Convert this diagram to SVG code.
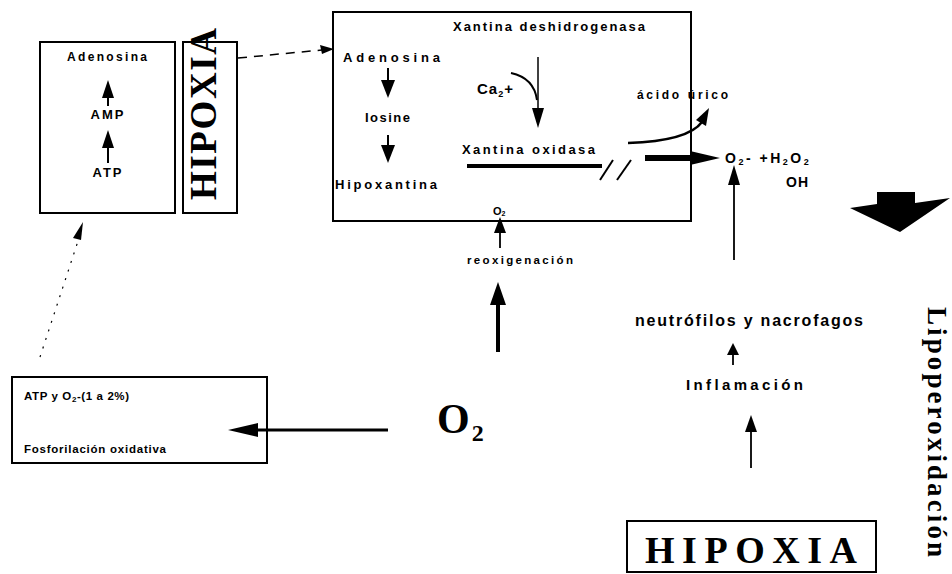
<svg xmlns="http://www.w3.org/2000/svg" width="952" height="574" viewBox="0 0 952 574">
<style>
.box{fill:none;stroke:#000;stroke-width:2}
.t{font-family:"Liberation Sans",Arial,sans-serif;font-weight:bold;fill:#000}
.s{font-family:"Liberation Serif","Times New Roman",serif;font-weight:bold;fill:#000}
.ln{stroke:#000;fill:none}
.ah{fill:#000;stroke:none}
</style>
<rect width="952" height="574" fill="#fff"/>
<g id="node-left">
<rect class="box" x="40" y="42" width="135" height="171"/>
<text class="t" x="67" y="61" font-size="12" textLength="80" lengthAdjust="spacing">Adenosina</text>
<text class="t" x="108" y="119" font-size="13" letter-spacing="2" text-anchor="middle">AMP</text>
<text class="t" x="108" y="177" font-size="13" letter-spacing="2" text-anchor="middle">ATP</text>
</g>
<g id="node-hipoxia-v">
<rect class="box" x="183" y="42" width="54" height="171"/>
<text class="s" x="0" y="0" font-size="37" transform="translate(216,200) rotate(-90)" textLength="172" lengthAdjust="spacing">HIPOXIA</text>
</g>
<g id="node-xantina">
<rect class="box" x="333" y="12" width="358" height="209"/>
<text class="t" x="453" y="31" font-size="13" textLength="192" lengthAdjust="spacing">Xantina deshidrogenasa</text>
<text class="t" x="343" y="62" font-size="13" textLength="97" lengthAdjust="spacing">Adenosina</text>
<text class="t" x="365" y="122" font-size="13" textLength="45" lengthAdjust="spacing">Iosine</text>
<text class="t" x="335" y="189" font-size="13" textLength="102" lengthAdjust="spacing">Hipoxantina</text>
<text class="t" x="477" y="94" font-size="15" letter-spacing="1">Ca<tspan font-size="9" dy="3">2</tspan><tspan dy="-3">+</tspan></text>
<text class="t" x="462" y="154" font-size="13" textLength="133" lengthAdjust="spacing">Xantina oxidasa</text>
<text class="t" x="493" y="215" font-size="11">O<tspan font-size="7" dy="1">2</tspan></text>
</g>
<g id="node-acido">
<text class="t" x="637" y="99" font-size="12" textLength="91" lengthAdjust="spacing">ácido úrico</text>
</g>
<g id="node-radicales">
<text class="t" x="725" y="163" font-size="14" letter-spacing="2.5">O<tspan font-size="9" dy="2">2</tspan><tspan dy="-2">- +H</tspan><tspan font-size="9" dy="2">2</tspan><tspan dy="-2">O</tspan><tspan font-size="9" dy="2">2</tspan></text>
<text class="t" x="786" y="187" font-size="14" letter-spacing="1">OH</text>
</g>
<g id="node-reox">
<text class="t" x="467" y="264" font-size="11.5" textLength="106" lengthAdjust="spacing">reoxigenación</text>
</g>
<g id="node-o2">
<text class="s" x="437" y="433" font-size="42">O<tspan font-size="24" dx="2" dy="8">2</tspan></text>
</g>
<g id="node-atp">
<rect class="box" x="12" y="377" width="255" height="86"/>
<text class="t" x="24" y="400" font-size="11.5" letter-spacing="0.6">ATP y O<tspan font-size="8" dy="2">2</tspan><tspan dy="-2">-(1 a 2%)</tspan></text>
<text class="t" x="24" y="453" font-size="11.5" textLength="142" lengthAdjust="spacing">Fosforilación oxidativa</text>
</g>
<g id="node-neutro">
<text class="t" x="635" y="326" font-size="16" textLength="228" lengthAdjust="spacing">neutrófilos y nacrofagos</text>
</g>
<g id="node-inflam">
<text class="t" x="686" y="390" font-size="15" textLength="117" lengthAdjust="spacing">Inflamación</text>
</g>
<g id="node-hipoxia-h">
<rect class="box" x="627" y="521" width="249" height="51"/>
<text class="s" x="645" y="563" font-size="38" textLength="212" lengthAdjust="spacing">HIPOXIA</text>
</g>
<g id="node-lipo">
<text class="s" x="0" y="0" font-size="27" transform="translate(928,307) rotate(90)" textLength="250" lengthAdjust="spacing">Lipoperoxidación</text>
</g>
<g id="connectors">
<line class="ln" x1="108" y1="106" x2="108" y2="94" stroke-width="2"/>
<polygon class="ah" points="102,98 114,98 108,80"/>
<line class="ln" x1="108" y1="163" x2="108" y2="144" stroke-width="2"/>
<polygon class="ah" points="102,148 114,148 108,130"/>
<line class="ln" x1="238" y1="58" x2="322" y2="50" stroke-width="1.5" stroke-dasharray="9,7"/>
<polygon class="ah" points="320,45 322,54 334,49"/>
<line class="ln" x1="388" y1="68" x2="388" y2="82" stroke-width="2"/>
<polygon class="ah" points="381,80 395,80 388,98"/>
<line class="ln" x1="388" y1="135" x2="388" y2="147" stroke-width="2"/>
<polygon class="ah" points="381,145 395,145 388,163"/>
<line class="ln" x1="538" y1="57" x2="538" y2="112" stroke-width="1.5"/>
<polygon class="ah" points="532,108 544,108 538,128"/>
<path class="ln" d="M511,73 Q534,78 537,100" stroke-width="2"/>
<line class="ln" x1="467" y1="166" x2="602" y2="166" stroke-width="4"/>
<line class="ln" x1="600" y1="180" x2="613" y2="160" stroke-width="2"/>
<line class="ln" x1="617" y1="180" x2="631" y2="160" stroke-width="2"/>
<line class="ln" x1="645" y1="158" x2="692" y2="158" stroke-width="6"/>
<polygon class="ah" points="690,151 690,165 720,158"/>
<path class="ln" d="M628,143 Q688,141 702,122" stroke-width="2.5"/>
<polygon class="ah" points="696,120 706,126 709,108"/>
<line class="ln" x1="734" y1="260" x2="734" y2="182" stroke-width="1.8"/>
<polygon class="ah" points="728,185 740,185 734,165"/>
<polygon class="ah" points="877,192 915,192 915,203 950,198 900,232 850,208 877,204"/>
<line class="ln" x1="500" y1="248" x2="500" y2="230" stroke-width="1.8"/>
<polygon class="ah" points="494,233 506,233 500,217"/>
<line class="ln" x1="498" y1="352" x2="498" y2="302" stroke-width="4"/>
<polygon class="ah" points="490,305 506,305 498,282"/>
<line class="ln" x1="388" y1="430" x2="256" y2="430" stroke-width="3"/>
<polygon class="ah" points="258,423 258,437 228,430"/>
<line class="ln" x1="40" y1="357" x2="79" y2="238" stroke-width="1.2" stroke-dasharray="2,7"/>
<polygon class="ah" points="73,238 81,240 83,222"/>
<line class="ln" x1="733" y1="365" x2="733" y2="352" stroke-width="1.8"/>
<polygon class="ah" points="727,355 739,355 733,343"/>
<line class="ln" x1="751" y1="468" x2="751" y2="430" stroke-width="1.8"/>
<polygon class="ah" points="745,432 757,432 751,415"/>
</g>
</svg>
